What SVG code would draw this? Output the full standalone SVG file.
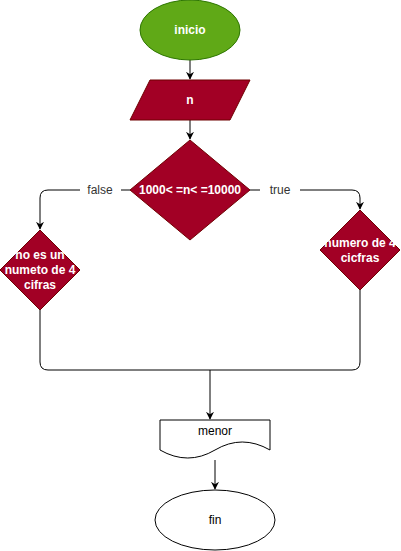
<svg xmlns="http://www.w3.org/2000/svg" width="401" height="551" viewBox="0 0 401 551">
<defs>
<marker id="arr" viewBox="0 0 10 10" refX="9" refY="5" markerWidth="8" markerHeight="8" markerUnits="userSpaceOnUse" orient="auto">
<path d="M0,0 L10,5 L0,10 L3,5 Z" fill="#000"/>
</marker>
<style>
.red{fill:#a20025;stroke:#6f0000;stroke-width:1}
.grn{fill:#60a917;stroke:#2d7600;stroke-width:1}
.wht{fill:#fff;stroke:#000;stroke-width:1}
.wt{fill:#fff;font-family:"Liberation Sans",Arial,sans-serif;font-size:12px;font-weight:bold;text-anchor:middle}
.bt{fill:#000;font-family:"Liberation Sans",Arial,sans-serif;font-size:12px;text-anchor:middle}
.lbl{fill:#333;font-family:"Liberation Sans",Arial,sans-serif;font-size:12px;text-anchor:middle}
.e{fill:none;stroke:#000;stroke-width:1}
</style>
</defs>
<rect width="401" height="551" fill="#fff"/>
<g id="connectors">
<path class="e" d="M190,60 V79" marker-end="url(#arr)"/>
<path class="e" d="M190,120 V139" marker-end="url(#arr)"/>
<path class="e" d="M130,190 H48 Q40,190 40,198 V229" marker-end="url(#arr)"/>
<path class="e" d="M250,190 H352 Q360,190 360,198 V209" marker-end="url(#arr)"/>
<path class="e" d="M40,310 V362 Q40,370 48,370 H352 Q360,370 360,362 V290"/>
<path class="e" d="M210,370 V419" marker-end="url(#arr)"/>
<path class="e" d="M215,460 V489" marker-end="url(#arr)"/>
<rect x="80" y="182" width="41" height="16" fill="#fff"/>
<text class="lbl" x="100" y="194">false</text>
<rect x="260" y="182" width="40" height="16" fill="#fff"/>
<text class="lbl" x="280" y="194">true</text>
</g>
<g id="inicio">
<ellipse class="grn" cx="190" cy="30" rx="50" ry="30"/>
<text class="wt" x="190" y="34">inicio</text>
</g>
<g id="n">
<polygon class="red" points="150,80 250,80 230,120 130,120"/>
<text class="wt" x="190" y="104">n</text>
</g>
<g id="cond">
<polygon class="red" points="190,140 250,190 190,240 130,190"/>
<text class="wt" x="190" y="194">1000&lt; =n&lt; =10000</text>
</g>
<g id="nofour">
<polygon class="red" points="40,230 80,270 40,310 0,270"/>
<text class="wt" x="40" y="259">no es un</text>
<text class="wt" x="40" y="274">numeto de 4</text>
<text class="wt" x="40" y="289">cifras</text>
</g>
<g id="four">
<polygon class="red" points="360,210 400,250 360,290 320,250"/>
<text class="wt" x="360" y="247">numero de 4</text>
<text class="wt" x="360" y="262">cicfras</text>
</g>
<g id="menor">
<path class="wht" d="M160,420 H270 V450 Q242,434 215,450 Q188,466 160,450 Z"/>
<text class="bt" x="215" y="435">menor</text>
</g>
<g id="fin">
<ellipse class="wht" cx="215" cy="520" rx="60" ry="30"/>
<text class="bt" x="215" y="524">fin</text>
</g>
</svg>
